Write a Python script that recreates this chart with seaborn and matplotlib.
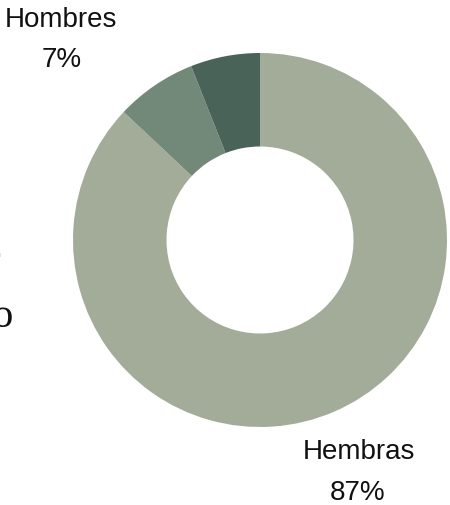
import matplotlib
matplotlib.use("Agg")
import matplotlib.pyplot as plt
import seaborn as sns

categories = ["Hembras", "Hombres", "Sin determinar"]
values = [87, 7, 6]
pct_labels = ["87%", "7%", "6%"]
colors = ["#A3AC98", "#728979", "#4A6358"]

sns.set_theme(style="white")
plt.rcParams['font.family'] = ['Liberation Sans', 'DejaVu Sans']

W, H = 450, 506
fig = plt.figure(figsize=(W / 100, H / 100), dpi=100)
fig.patch.set_facecolor("white")

cx, cy, R = 260, 241, 187
ax = fig.add_axes([(cx - R) / W, (H - cy - R) / H, 2 * R / W, 2 * R / H])
ax.pie(values, colors=colors, startangle=90, counterclock=False, radius=1,
       wedgeprops=dict(width=0.5, edgecolor="none"))
ax.set_xlim(-1, 1)
ax.set_ylim(-1, 1)
ax.set_aspect("equal")
ax.axis("off")

def px(x, y):
    return x / W, 1 - y / H

fs = 20
tc = "#111111"
fig.text(*px(61, 27), categories[1], ha="center", va="baseline", fontsize=fs, color=tc)
fig.text(*px(62, 67), pct_labels[1], ha="center", va="baseline", fontsize=fs, color=tc)
fig.text(*px(359, 459), categories[0], ha="center", va="baseline", fontsize=fs, color=tc)
fig.text(*px(358, 500), pct_labels[0], ha="center", va="baseline", fontsize=fs, color=tc)

# partially visible label at the left edge (cropped in the reference)
serif = ["Liberation Serif", "DejaVu Serif"]
fig.text(*px(0.4, 270), "Sin determinar", ha="right", va="baseline", fontsize=26,
         family=serif, color=tc)
fig.text(*px(14, 327), "sexo", ha="right", va="baseline", fontsize=30,
         family=serif, color=tc)

fig.savefig("out.png", dpi=100, facecolor="white")
